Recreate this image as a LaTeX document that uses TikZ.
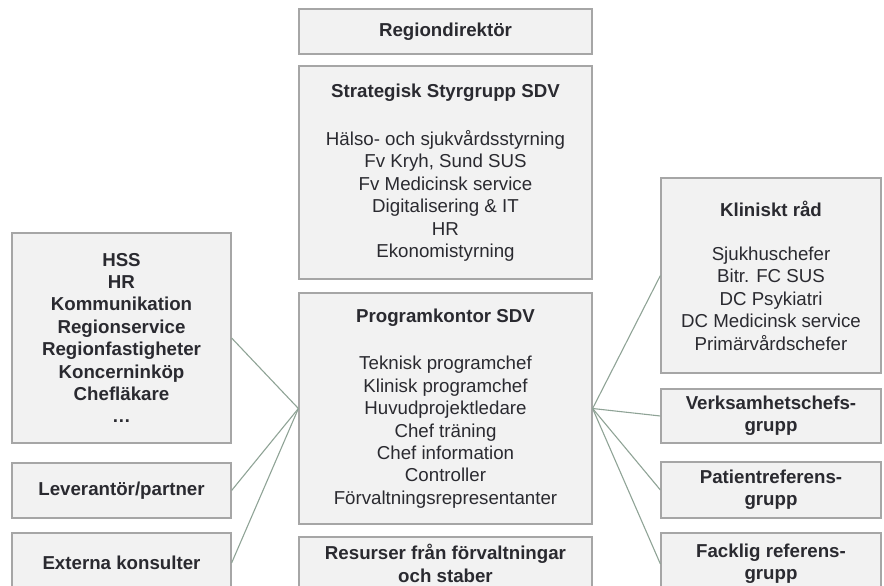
\documentclass[tikz,border=0pt]{standalone}
\usepackage{fontspec}
\setmainfont{Liberation Sans}
\definecolor{boxfill}{HTML}{F2F2F2}
\definecolor{boxline}{HTML}{A6A6A6}
\definecolor{txt}{HTML}{2A2A30}
\definecolor{link}{HTML}{8FA396}
\begin{document}
\begin{tikzpicture}[x=1pt,y=-1pt,
  box/.style={draw=boxline, fill=boxfill, line width=1.2pt, inner sep=0pt,
    align=center, text=txt, font=\fontsize{18.7}{22.4}\selectfont},
  boldbox/.style={box, font=\fontsize{18.7}{22.4}\selectfont\bfseries},
  conn/.style={draw=link, line width=1.1pt}]
\useasboundingbox (0,0) rectangle (884,586);
\clip (0,0) rectangle (884,586);
% centre column
\node[boldbox, minimum width=293pt, minimum height=45pt] (reg) at (445.5,31.5) {Regiondirektör};
\node[box, minimum width=293pt, minimum height=213pt] (strat) at (445.5,172.5)
  {\textbf{Strategisk Styrgrupp SDV}\\[26pt]
   Hälso- och sjukvårdsstyrning\\ Fv Kryh, Sund SUS\\ Fv Medicinsk service\\
   Digitalisering \& IT\\ HR\\ Ekonomistyrning};
\node[box, minimum width=293pt, minimum height=231pt] (prog) at (445.5,408.5)
  {\textbf{Programkontor SDV}\\[25pt]
   Teknisk programchef\\ Klinisk programchef\\ Huvudprojektledare\\
   Chef träning\\ Chef information\\ Controller\\ Förvaltningsrepresentanter};
\node[boldbox, minimum width=293pt, minimum height=53pt] (res) at (445.5,563.5)
  {Resurser från förvaltningar\\ och staber};
% left column
\node[boldbox, minimum width=219pt, minimum height=210pt] (hss) at (121.5,338)
  {HSS\\ HR\\ Kommunikation\\ Regionservice\\ Regionfastigheter\\
   Koncerninköp\\ Chefläkare\\ …};
\node[boldbox, minimum width=219pt, minimum height=55pt] (lev) at (121.5,490.5)
  {Leverantör/partner};
\node[boldbox, minimum width=219pt, minimum height=60pt] (ext) at (121.5,563)
  {Externa konsulter};
% right column
\node[box, minimum width=220pt, minimum height=195pt] (kl) at (771,275.5)
  {\textbf{Kliniskt råd}\\[22pt]
   Sjukhuschefer\\ Bitr. FC SUS\\ DC Psykiatri\\ DC Medicinsk service\\ Primärvårdschefer};
\node[boldbox, minimum width=220pt, minimum height=54pt] (verk) at (771,416)
  {Verksamhetschefs-\\ grupp};
\node[boldbox, minimum width=220pt, minimum height=56pt] (pat) at (771,490)
  {Patientreferens-\\ grupp};
\node[boldbox, minimum width=220pt, minimum height=62pt] (fack) at (771,564)
  {Facklig referens-\\ grupp};
% connectors
\draw[conn] (prog.west) -- (hss.east);
\draw[conn] (prog.west) -- (lev.east);
\draw[conn] (prog.west) -- (ext.east);
\draw[conn] (prog.east) -- (kl.west);
\draw[conn] (prog.east) -- (verk.west);
\draw[conn] (prog.east) -- (pat.west);
\draw[conn] (prog.east) -- (fack.west);
\end{tikzpicture}
\end{document}
